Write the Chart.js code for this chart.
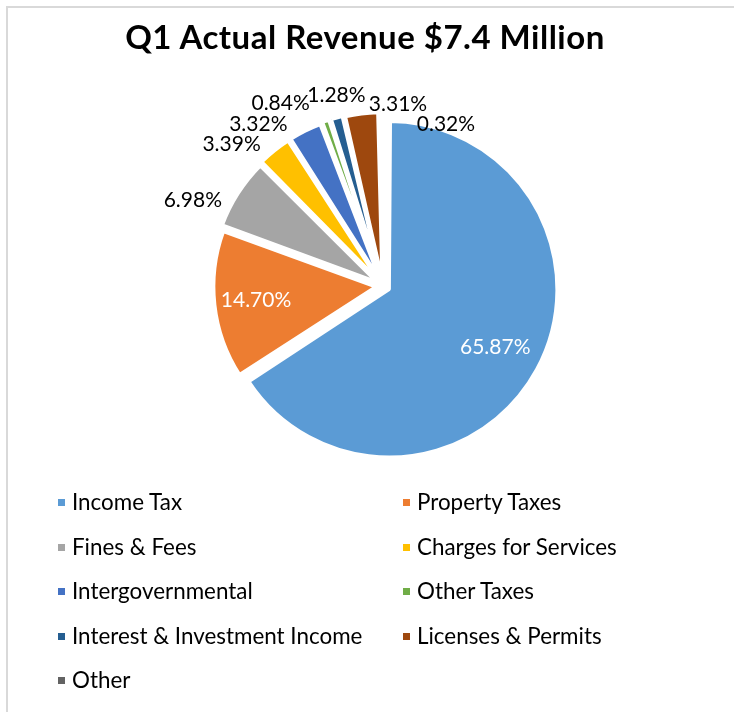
<!DOCTYPE html>
<html>
<head>
<meta charset="utf-8">
<script src="https://cdn.jsdelivr.net/npm/chart.js@4/dist/chart.umd.min.js"></script>
<style>
  html, body { margin: 0; padding: 0; background: #fff; }
  body { width: 734px; height: 712px; position: relative; overflow: hidden; font-family: Lato, "Open Sans", sans-serif; }
  #frame { position: absolute; left: 6px; top: 6px; width: 760px; height: 760px; border-left: 2px solid #d9d9d9; border-top: 2px solid #d9d9d9; box-sizing: border-box; }
  #title { position: absolute; left: 0; width: 730px; top: 14px; text-align: center; font-weight: 700; font-size: 33px; letter-spacing: 0.5px; color: #000; line-height: 44px; white-space: nowrap; }
  canvas { position: absolute; left: 0; top: 0; }
  .lg { position: absolute; font-size: 22.4px; color: #000; white-space: nowrap; line-height: 28px; }
  .lg i { position: absolute; width: 7px; height: 7px; top: 11px; }
</style>
</head>
<body>
<div id="frame"></div>
<canvas id="c" width="734" height="712"></canvas>
<div id="title">Q1 Actual Revenue $7.4 Million</div>
<div id="legend"></div>
<script>
const categories = ["Income Tax", "Property Taxes", "Fines & Fees", "Charges for Services", "Intergovernmental", "Other Taxes", "Interest & Investment Income", "Licenses & Permits", "Other"];
const sharePct = [65.87, 14.70, 6.98, 3.39, 3.32, 0.84, 1.28, 3.31, 0.32];
const sliceColors = ["#5B9BD5", "#ED7D31", "#A5A5A5", "#FFC000", "#4472C4", "#70AD47", "#255E91", "#9E480E", "#636363"];
const chartTitle = "Q1 Actual Revenue $7.4 Million";

document.getElementById('title').textContent = chartTitle;

// label nudges (Excel best-fit placement approximations)
const nudge = [[0,0],[0,0],[-20,23],[-25,16],[-34,19],[-36,8],[7,4],[40,19],[65,40]];

const pctLabels = {
  id: 'pctLabels',
  afterDatasetsDraw(chart) {
    const ctx = chart.ctx;
    const meta = chart.getDatasetMeta(0);
    const vals = chart.data.datasets[0].data;
    ctx.save();
    ctx.font = '21px Lato, "Open Sans", sans-serif';
    ctx.textAlign = 'center';
    ctx.textBaseline = 'middle';
    meta.data.forEach((arc, i) => {
      const p = arc.getProps(['x','y','startAngle','endAngle','outerRadius'], true);
      const mid = (p.startAngle + p.endAngle) / 2;
      const off = (arc.options.offset || 0) / 4;
      const txt = vals[i].toFixed(2) + '%';
      let lx, ly;
      if (vals[i] > 10) {
        const cx = p.x + Math.cos(mid) * off, cy = p.y + Math.sin(mid) * off;
        const d = p.outerRadius * 0.75;
        lx = cx + Math.cos(mid) * d; ly = cy + Math.sin(mid) * d;
        ctx.fillStyle = '#ffffff';
      } else {
        const d = p.outerRadius + 41;
        lx = p.x + Math.cos(mid) * d + nudge[i][0];
        ly = p.y + Math.sin(mid) * d + nudge[i][1];
        ctx.fillStyle = '#000000';
      }
      ctx.fillText(txt, lx, ly);
    });
    ctx.restore();
  }
};

new Chart(document.getElementById('c'), {
  type: 'pie',
  data: {
    labels: categories,
    datasets: [{
      data: sharePct,
      backgroundColor: sliceColors,
      borderColor: '#ffffff',
      borderWidth: 3.5,
      offset: 28
    }]
  },
  options: {
    responsive: false,
    animation: false,
    radius: 161,
    layout: { padding: { left: 183, right: 151, top: 86, bottom: 226 } },
    plugins: {
      legend: { display: false },
      title: { display: false },
      tooltip: { enabled: false }
    },
    events: []
  },
  plugins: [pctLabels]
});

// two-column legend
const lg = document.getElementById('legend');
categories.forEach((name, i) => {
  const col = i % 2, row = Math.floor(i / 2);
  const d = document.createElement('div');
  d.className = 'lg';
  d.style.left = (col ? 417 : 72) + 'px';
  d.style.top = (502 + row * 44.6 - 14) + 'px';
  const m = document.createElement('i');
  m.style.background = sliceColors[i];
  m.style.left = '-14px';
  d.appendChild(m);
  d.appendChild(document.createTextNode(name));
  lg.appendChild(d);
});
</script>
</body>
</html>
